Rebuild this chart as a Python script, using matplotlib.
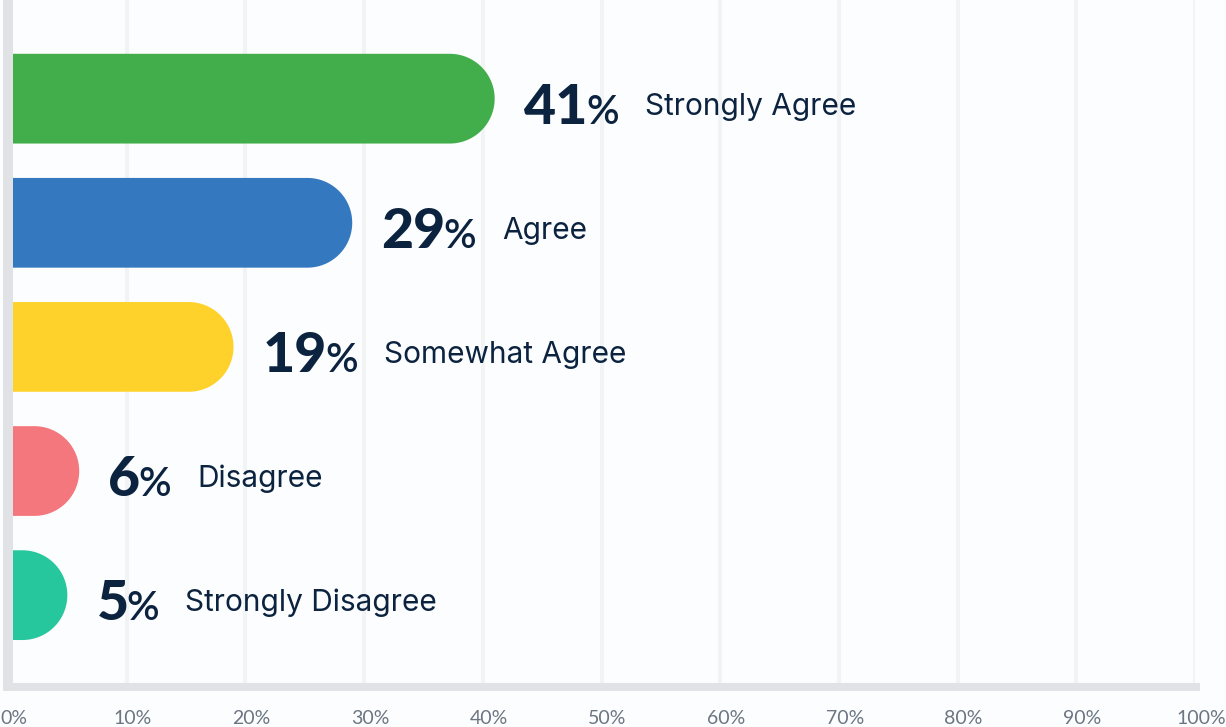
import numpy as np
import matplotlib
matplotlib.use("Agg")
import matplotlib.pyplot as plt
from matplotlib.path import Path
from matplotlib.patches import PathPatch
from matplotlib.lines import Line2D
import matplotlib.transforms as mtransforms

# ---- data ----
categories = ["Strongly Agree", "Agree", "Somewhat Agree", "Disagree", "Strongly Disagree"]
values = [41, 29, 19, 6, 5]
colors = ["#42ae4b", "#3479bf", "#ffd22b", "#f3777c", "#27c79d"]
tick_values = [0, 10, 20, 30, 40, 50, 60, 70, 80, 90, 100]
tick_labels = [f"{t}%" for t in tick_values]

# ---- style ----
BG = "#fcfdfe"
GRID = "#f2f3f5"
AXIS = "#e0e2e5"
NAVY = "#0c2340"
TICK = "#6c7682"
FONT = "Lato"
LABEL_FONT = "Inter"

W, H = 1226, 727
fig = plt.figure(figsize=(W / 100, H / 100), dpi=100, facecolor=BG)
ax = fig.add_axes([8 / W, 40 / H, 1187 / W, 687 / H])
ax.set_facecolor(BG)
ax.set_xlim(0, 100)
ax.set_ylim(4.74, -0.795)
for s in ax.spines.values():
    s.set_visible(False)
ax.set_yticks([])
ax.set_xticks(tick_values, tick_labels)
ax.tick_params(axis="x", length=0, pad=16.5, labelsize=14, labelcolor=TICK)
for lab in ax.get_xticklabels():
    lab.set_fontfamily(FONT)
    lab.set_transform(lab.get_transform() + mtransforms.ScaledTranslation(6 / 100, 0, fig.dpi_scale_trans))
ax.grid(axis="x", color=GRID, lw=2.9, zorder=0)
ax.set_axisbelow(True)

# axis lines
ax.add_line(Line2D([0, 0], [0, 1], transform=ax.transAxes, color=AXIS, lw=7.2,
                   solid_capstyle="butt", clip_on=False, zorder=5))
ax.add_line(Line2D([-5 / 1187, 1192 / 1187], [0, 0], transform=ax.transAxes, color=AXIS,
                   lw=5.8, solid_capstyle="butt", clip_on=False, zorder=5))

# rounded bars
ypos = np.arange(len(values))
bar_h = 0.723
p0 = ax.transData.transform((0, 0))
p1 = ax.transData.transform((1, 1))
sx = abs(p1[0] - p0[0])
sy = abs(p1[1] - p0[1])
r_px = bar_h * sy / 2
rx = r_px / sx

for y, v, c in zip(ypos, values, colors):
    theta = np.linspace(-np.pi / 2, np.pi / 2, 60)
    xs_arc = (v - rx) + rx * np.cos(theta)
    ys_arc = y + (bar_h / 2) * np.sin(theta)
    verts = [(0, y - bar_h / 2)] + list(zip(xs_arc, ys_arc)) + [(0, y + bar_h / 2), (0, y - bar_h / 2)]
    codes = [Path.MOVETO] + [Path.LINETO] * (len(verts) - 2) + [Path.CLOSEPOLY]
    ax.add_patch(PathPatch(Path(verts, codes), facecolor=c, edgecolor="none", zorder=3))

# labels
fig.canvas.draw()
renderer = fig.canvas.get_renderer()
blend = mtransforms.blended_transform_factory(mtransforms.IdentityTransform(), ax.transData)
for y, v, cat in zip(ypos, values, categories):
    xpix = ax.transData.transform((v, y))[0] + 29
    t_num = ax.text(xpix, y + 25 / sy, f"{v}", transform=blend, fontsize=40, fontweight="black",
                    fontfamily=FONT, color=NAVY, ha="left", va="baseline", zorder=6)
    bb = t_num.get_window_extent(renderer)
    t_pct = ax.text(bb.x1 - 2, y + 25 / sy, "%", transform=blend, fontsize=29, fontweight="semibold",
                    fontfamily=FONT, color=NAVY, ha="left", va="baseline", zorder=6)
    bb2 = t_pct.get_window_extent(renderer)
    ax.text(bb2.x1 + 26, y + 16 / sy, cat, transform=blend, fontsize=21.5, fontweight="regular",
            fontfamily=LABEL_FONT, color=NAVY, ha="left", va="baseline", zorder=6)

fig.savefig("out.png", dpi=100, facecolor=BG)
